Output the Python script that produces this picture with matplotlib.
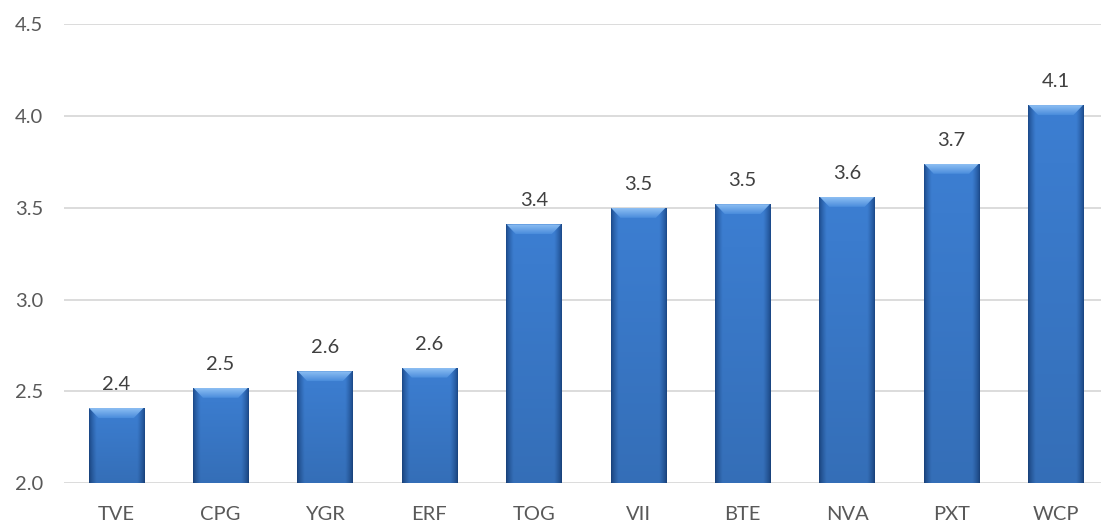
import numpy as np
import matplotlib
matplotlib.use("Agg")
import matplotlib.pyplot as plt
from matplotlib.patches import Polygon

categories = ["TVE", "CPG", "YGR", "ERF", "TOG", "VII", "BTE", "NVA", "PXT", "WCP"]
values = [2.41, 2.52, 2.61, 2.63, 3.41, 3.50, 3.52, 3.56, 3.74, 4.06]
yticks = [2.0, 2.5, 3.0, 3.5, 4.0, 4.5]

W, H = 1101, 524
fig = plt.figure(figsize=(W / 100, H / 100), dpi=100)
ax = fig.add_axes([64 / W, (H - 483.3) / H, 1044 / W, (483.3 - 24.3) / H])

FONT = ["Lato", "DejaVu Sans"]
ymin, ymax = 2.0, 4.5
ax.set_ylim(ymin, ymax)
ax.set_xlim(-0.5, len(categories) - 0.5)
ax.set_yticks(yticks)
ax.set_yticklabels([f"{v:.1f}" for v in yticks])
ax.set_xticks(range(len(categories)))
ax.set_xticklabels(categories)
ax.yaxis.grid(True, color="#d9d9d9", linewidth=1.3)
ax.set_axisbelow(True)
for s in ax.spines.values():
    s.set_visible(False)
ax.tick_params(axis="both", length=0, labelsize=14.5, colors="#595959")
ax.tick_params(axis="y", pad=15)
ax.tick_params(axis="x", pad=16)
for lbl in ax.get_xticklabels() + ax.get_yticklabels():
    lbl.set_fontfamily(FONT)

bar_w = 0.53
bars = ax.bar(range(len(categories)), [v - ymin for v in values], bottom=ymin,
              width=bar_w, color="#3a7bcc", edgecolor="none", zorder=2)

# gradient image for the bar body
nx, ny = 60, 200
xs = np.linspace(0, 1, nx)
edge = np.clip(np.minimum(xs, 1 - xs) / 0.13, 0, 1) ** 0.8
base_edge = np.array([0x1c, 0x4a, 0x8a]) / 255
base_mid = np.array([0x3b, 0x7c, 0xce]) / 255
row = base_edge[None, :] * (1 - edge[:, None]) + base_mid[None, :] * edge[:, None]
ys = np.linspace(0, 1, ny)  # 0 top -> 1 bottom
shade = 1.02 - 0.13 * ys
img = np.clip(row[None, :, :] * shade[:, None, None], 0, 1)

# bevel gradient (light at top edge, fading down)
bev_ny = 40
bys = np.linspace(0, 1, bev_ny)
c_top = np.array([0x8d, 0xbf, 0xf3]) / 255
c_bot = np.array([0x4a, 0x8c, 0xdc]) / 255
bev = (c_top[None, :] * (1 - bys[:, None]) + c_bot[None, :] * bys[:, None])
bev_img = np.repeat(bev[:, None, :], 4, axis=1)

px_x = 1.0 / 104.4
px_y = 0.5 / 92.0
for b, v in zip(bars, values):
    x0 = b.get_x()
    x1 = x0 + b.get_width()
    im = ax.imshow(img, extent=(x0, x1, ymin, v), aspect="auto", zorder=3,
                   interpolation="bilinear")
    im.set_clip_path(b)
    inset = 10 * px_x
    dy = 10 * px_y
    top = Polygon([[x0 + 0.5 * px_x, v], [x1 - 0.5 * px_x, v],
                   [x1 - inset, v - dy], [x0 + inset, v - dy]],
                  closed=True, facecolor="none", edgecolor="none", zorder=4)
    ax.add_patch(top)
    bim = ax.imshow(bev_img, extent=(x0, x1, v - dy, v), aspect="auto", zorder=4,
                    interpolation="bilinear")
    bim.set_clip_path(top)
    ax.text(b.get_x() + b.get_width() / 2, v + 15 * px_y, f"{v:.1f}",
            ha="center", va="bottom", fontsize=14.5, color="#404040",
            fontfamily=FONT, zorder=5)

fig.savefig("out.png", dpi=100, facecolor="white")
